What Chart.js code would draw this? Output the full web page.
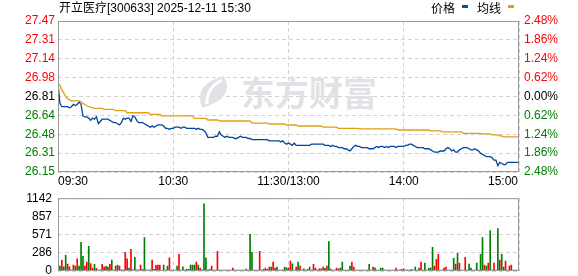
<!DOCTYPE html>
<html>
<head>
<meta charset="utf-8">
<script src="https://cdn.jsdelivr.net/npm/chart.js@4.4.1/dist/chart.umd.min.js"></script>
<style>
  html, body { margin: 0; padding: 0; background: #fff; }
  #wrap { position: relative; width: 578px; height: 276px; overflow: hidden; font-family: "Liberation Sans", "Noto Sans CJK SC", sans-serif; color: #000; }
  #title { position: absolute; left: 59px; top: 0px; font-size: 12px; line-height: 16px; white-space: nowrap; }
  .leg { position: absolute; top: 0px; font-size: 12px; line-height: 16px; white-space: nowrap; font-family: "Noto Sans CJK SC", sans-serif; }
  .mark { position: absolute; top: 5px; width: 6px; height: 3px; }
  #priceChart { position: absolute; left: 0; top: 0; }
  #volChart { position: absolute; left: 0; top: 185px; }
</style>
</head>
<body>
<div id="wrap">
  <canvas id="priceChart" width="578" height="190"></canvas>
  <canvas id="volChart" width="578" height="100"></canvas>
  <div id="title">开立医疗[300633] 2025-12-11 15:30</div>
  <div class="leg" style="left:431px">价格</div>
  <div class="mark" style="left:462px;background:#0a4fa3"></div>
  <div class="leg" style="left:477px">均线</div>
  <div class="mark" style="left:508px;background:#e0a010"></div>
</div>
<script>
// previous close and the +/- range shown on the price axis
const prevClose = 26.81;
const priceSpan = 0.665;

const priceTickLabels = ['26.15', '26.31', '26.48', '26.64', '26.81', '26.98', '27.14', '27.31', '27.47'];
const pctTickLabels = ['2.48%', '1.86%', '1.24%', '0.62%', '0.00%', '0.62%', '1.24%', '1.86%', '2.48%'];

const timeTicks = [0, 60, 120, 180, 240];
const timeLabels = ['09:30', '10:30', '11:30/13:00', '14:00', '15:00'];

const volTicks = [0, 286, 571, 857, 1142];

// one value per minute, 09:30 .. 11:30 then 13:01 .. 15:00
const price = [
  26.93, 26.75, 26.72, 26.72, 26.72, 26.72, 26.71, 26.72, 26.74, 26.73,
  26.74, 26.76, 26.74, 26.64, 26.63, 26.63, 26.62, 26.60, 26.62, 26.61,
  26.63, 26.57, 26.59, 26.61, 26.61, 26.61, 26.61, 26.60, 26.59, 26.58,
  26.58, 26.57, 26.56, 26.58, 26.62, 26.61, 26.62, 26.62, 26.59, 26.64,
  26.63, 26.60, 26.58, 26.58, 26.58, 26.57, 26.56, 26.55, 26.54, 26.55,
  26.54, 26.55, 26.56, 26.56, 26.56, 26.55, 26.53, 26.53, 26.52, 26.53,
  26.53, 26.54, 26.54, 26.54, 26.53, 26.54, 26.54, 26.53, 26.53, 26.53,
  26.53, 26.53, 26.52, 26.53, 26.52, 26.52, 26.51, 26.49, 26.45, 26.45,
  26.45, 26.45, 26.46, 26.46, 26.50, 26.47, 26.46, 26.45, 26.46, 26.45,
  26.45, 26.45, 26.44, 26.44, 26.45, 26.46, 26.45, 26.45, 26.45, 26.44,
  26.44, 26.43, 26.43, 26.43, 26.43, 26.43, 26.43, 26.43, 26.43, 26.43,
  26.42, 26.42, 26.42, 26.42, 26.42, 26.42, 26.41, 26.42, 26.40, 26.39,
  26.40, 26.39, 26.38, 26.40, 26.38, 26.38, 26.38, 26.38, 26.38, 26.38,
  26.38, 26.38, 26.39, 26.39, 26.39, 26.39, 26.39, 26.39, 26.39, 26.38,
  26.38, 26.38, 26.37, 26.38, 26.37, 26.37, 26.36, 26.36, 26.36, 26.35,
  26.35, 26.34, 26.33, 26.35, 26.37, 26.38, 26.37, 26.37, 26.36, 26.36,
  26.36, 26.36, 26.35, 26.35, 26.35, 26.36, 26.37, 26.36, 26.37, 26.37,
  26.36, 26.37, 26.36, 26.37, 26.37, 26.37, 26.36, 26.37, 26.37, 26.37,
  26.37, 26.38, 26.38, 26.39, 26.39, 26.38, 26.37, 26.36, 26.36, 26.36,
  26.36, 26.35, 26.35, 26.35, 26.34, 26.33, 26.32, 26.32, 26.32, 26.33,
  26.33, 26.33, 26.35, 26.36, 26.35, 26.33, 26.34, 26.32, 26.32, 26.34,
  26.35, 26.36, 26.36, 26.36, 26.35, 26.34, 26.34, 26.35, 26.34, 26.33,
  26.31, 26.30, 26.29, 26.28, 26.28, 26.28, 26.27, 26.25, 26.25, 26.20,
  26.23, 26.22, 26.21, 26.21, 26.23, 26.23, 26.23, 26.23, 26.23, 26.23,
  26.23
];

const avgLine = [
  26.93, 26.91, 26.87, 26.84, 26.81, 26.79, 26.78, 26.772, 26.772, 26.772,
  26.772, 26.772, 26.763, 26.749, 26.74, 26.728, 26.72, 26.717, 26.71, 26.705,
  26.705, 26.705, 26.705, 26.705, 26.696, 26.696, 26.696, 26.696, 26.696, 26.696,
  26.685, 26.685, 26.685, 26.685, 26.685, 26.685, 26.667, 26.667, 26.667, 26.667,
  26.667, 26.667, 26.667, 26.667, 26.667, 26.667, 26.667, 26.667, 26.653, 26.653,
  26.653, 26.653, 26.653, 26.653, 26.64, 26.64, 26.64, 26.64, 26.64, 26.64,
  26.64, 26.64, 26.64, 26.64, 26.64, 26.64, 26.64, 26.64, 26.64, 26.64,
  26.64, 26.617, 26.617, 26.617, 26.617, 26.617, 26.617, 26.617, 26.603, 26.603,
  26.603, 26.603, 26.603, 26.603, 26.594, 26.594, 26.594, 26.594, 26.594, 26.594,
  26.594, 26.594, 26.594, 26.594, 26.594, 26.594, 26.594, 26.594, 26.594, 26.594,
  26.594, 26.575, 26.575, 26.575, 26.575, 26.575, 26.575, 26.575, 26.575, 26.575,
  26.568, 26.568, 26.568, 26.568, 26.568, 26.568, 26.568, 26.568, 26.568, 26.559,
  26.559, 26.559, 26.559, 26.559, 26.559, 26.55, 26.55, 26.55, 26.55, 26.55,
  26.55, 26.55, 26.55, 26.55, 26.55, 26.55, 26.55, 26.55, 26.54, 26.54,
  26.54, 26.54, 26.54, 26.54, 26.54, 26.54, 26.53, 26.53, 26.53, 26.53,
  26.53, 26.53, 26.53, 26.53, 26.53, 26.53, 26.53, 26.524, 26.524, 26.524,
  26.524, 26.524, 26.524, 26.524, 26.524, 26.524, 26.524, 26.524, 26.524, 26.524,
  26.524, 26.524, 26.524, 26.524, 26.524, 26.524, 26.524, 26.515, 26.515, 26.515,
  26.515, 26.515, 26.515, 26.515, 26.515, 26.515, 26.515, 26.515, 26.515, 26.515,
  26.515, 26.515, 26.515, 26.515, 26.507, 26.507, 26.507, 26.507, 26.507, 26.507,
  26.498, 26.498, 26.498, 26.498, 26.498, 26.498, 26.498, 26.498, 26.498, 26.498,
  26.498, 26.486, 26.486, 26.486, 26.486, 26.486, 26.486, 26.486, 26.486, 26.486,
  26.486, 26.48, 26.48, 26.48, 26.48, 26.48, 26.472, 26.472, 26.472, 26.472,
  26.463, 26.463, 26.454, 26.454, 26.454, 26.454, 26.454, 26.454, 26.454, 26.454,
  26.454
];

const volume = [
  170, 77, 170, 67, 247, 108, 67, 15, 93, 77,
  190, 77, 448, 231, 77, 139, 386, 118, 41, 103,
  41, 15, 20, 103, 62, 72, 62, 103, 170, 15,
  77, 93, 77, 20, 15, 293, 190, 46, 340, 20,
  216, 20, 20, 93, 25, 525, 20, 15, 20, 170,
  25, 87, 93, 93, 10, 93, 15, 77, 206, 15,
  15, 15, 77, 262, 15, 67, 15, 25, 25, 93,
  93, 93, 139, 93, 46, 20, 1055, 206, 15, 25,
  77, 15, 15, 309, 15, 15, 15, 15, 15, 15,
  15, 46, 15, 15, 15, 15, 15, 15, 30, 15,
  576, 293, 15, 15, 15, 309, 15, 25, 46, 25,
  62, 62, 139, 46, 62, 15, 15, 20, 62, 50,
  50, 154, 113, 15, 62, 139, 77, 15, 36, 15,
  25, 62, 15, 103, 46, 15, 36, 36, 62, 41,
  77, 463, 30, 15, 15, 46, 36, 46, 139, 15,
  15, 15, 77, 139, 62, 15, 15, 15, 15, 15,
  15, 15, 103, 15, 62, 50, 15, 15, 46, 46,
  15, 15, 15, 15, 15, 15, 46, 15, 20, 25,
  36, 15, 20, 15, 25, 15, 62, 15, 46, 139,
  15, 123, 15, 46, 46, 370, 77, 185, 262, 15,
  15, 46, 62, 15, 15, 15, 200, 108, 278, 123,
  15, 15, 216, 15, 108, 46, 15, 15, 123, 15,
  262, 525, 93, 77, 123, 633, 15, 123, 15, 664,
  170, 262, 62, 154, 15, 77, 93, 15, 15, 15,
  216
];

// 1 = red bar (up), 0 = green bar (down)
const volUp = [
  0, 0, 1, 0, 0, 1, 1, 0, 1, 0,
  1, 0, 0, 0, 1, 1, 0, 1, 1, 0,
  1, 0, 1, 1, 1, 0, 1, 1, 0, 0,
  1, 0, 1, 0, 1, 1, 1, 0, 1, 1,
  0, 1, 1, 1, 1, 0, 0, 1, 0, 1,
  0, 1, 1, 1, 0, 0, 0, 0, 1, 1,
  0, 1, 0, 1, 1, 0, 1, 0, 0, 0,
  0, 0, 1, 0, 1, 1, 0, 0, 0, 1,
  1, 1, 0, 1, 0, 0, 1, 0, 1, 1,
  1, 1, 1, 0, 1, 1, 1, 1, 0, 0,
  0, 0, 0, 1, 0, 1, 0, 1, 1, 0,
  1, 0, 1, 1, 0, 1, 0, 0, 0, 0,
  1, 1, 0, 1, 1, 0, 1, 0, 0, 1,
  1, 0, 1, 1, 1, 0, 1, 1, 1, 0,
  1, 0, 1, 0, 1, 1, 1, 0, 0, 0,
  1, 0, 0, 1, 1, 0, 1, 0, 1, 0,
  1, 0, 0, 1, 1, 0, 1, 0, 0, 0,
  1, 0, 1, 0, 1, 0, 1, 1, 0, 1,
  1, 1, 1, 1, 1, 0, 0, 0, 0, 1,
  0, 0, 1, 0, 0, 0, 1, 1, 1, 0,
  1, 1, 1, 1, 1, 0, 0, 1, 0, 1,
  0, 0, 1, 0, 0, 0, 1, 1, 0, 1,
  0, 0, 1, 0, 1, 0, 0, 1, 0, 0,
  1, 0, 0, 1, 0, 1, 1, 0, 1, 0,
  1
];

const minutes = price.map((_, i) => i);

const FONT = '"Liberation Sans", Arial, sans-serif';
const RED = '#ff0000';
const GREEN = '#008000';
const GRID = '#d2d2d2';
const DASH = [4, 3];

function tickColor(ctx) {
  if (ctx.index > 4) return RED;
  if (ctx.index < 4) return GREEN;
  return '#000000';
}

// gray frame round the plot area, plus the time labels under the price panel
const framePlugin = {
  id: 'frame',
  afterDraw(chart, args, opts) {
    const { ctx, chartArea: a } = chart;
    ctx.save();
    ctx.strokeStyle = '#999999';
    ctx.lineWidth = 1;
    ctx.strokeRect(a.left + 0.5, a.top + 0.5, a.right - a.left - 1, a.bottom - a.top - 1);
    if (opts.timeLabels) {
      ctx.font = '12px ' + FONT;
      ctx.fillStyle = '#000';
      ctx.textBaseline = 'middle';
      const last = timeTicks.length - 1;
      timeTicks.forEach((t, i) => {
        const x = chart.scales.x.getPixelForValue(t);
        ctx.textAlign = i === 0 ? 'left' : (i === last ? 'right' : 'center');
        ctx.fillText(timeLabels[i], i === last ? x - 1 : x, a.bottom + 10);
      });
    }
    ctx.restore();
  }
};

// faint brand watermark behind the lines
const watermarkPlugin = {
  id: 'watermark',
  beforeDatasetsDraw(chart) {
    const { ctx } = chart;
    ctx.save();
    ctx.fillStyle = '#e2e2e6';
    // little flame logo
    ctx.beginPath();
    ctx.moveTo(224, 76);
    ctx.quadraticCurveTo(193, 84, 202, 108);
    ctx.quadraticCurveTo(236, 98, 224, 76);
    ctx.fill();
    ctx.strokeStyle = '#ffffff';
    ctx.lineWidth = 3;
    ctx.beginPath();
    ctx.moveTo(207, 104);
    ctx.quadraticCurveTo(206, 88, 222, 80);
    ctx.stroke();
    ctx.font = 'bold 34px "Noto Sans CJK SC", sans-serif';
    ctx.textAlign = 'center';
    ctx.textBaseline = 'middle';
    ctx.fillText('东方财富', 309, 93);
    ctx.restore();
  }
};

Chart.register(framePlugin);

const xScale = () => ({
  type: 'linear',
  min: 0,
  max: 240,
  offset: false,
  afterBuildTicks: s => { s.ticks = timeTicks.map(v => ({ value: v })); },
  ticks: { display: false },
  grid: { color: GRID, drawTicks: false, offset: false },
  border: { display: false, dash: DASH }
});

new Chart(document.getElementById('priceChart'), {
  type: 'line',
  data: {
    labels: minutes,
    datasets: [
      { data: price, borderColor: '#00469c', borderWidth: 1.3, pointRadius: 0, tension: 0, order: 1 },
      { data: avgLine, borderColor: '#e0a010', borderWidth: 1.3, pointRadius: 0, tension: 0, order: 2 }
    ]
  },
  options: {
    responsive: false,
    animation: false,
    events: [],
    layout: { padding: { top: 21, bottom: 18, left: 0, right: 0 } },
    plugins: { legend: { display: false }, tooltip: { enabled: false }, frame: { timeLabels: true } },
    scales: {
      x: xScale(),
      y: {
        position: 'left',
        min: prevClose - priceSpan,
        max: prevClose + priceSpan,
        afterBuildTicks: s => { s.ticks = priceTickLabels.map((_, i) => ({ value: prevClose + (i - 4) * priceSpan / 4 })); },
        afterFit: s => { s.width = 58; },
        ticks: { callback: (v, i) => priceTickLabels[i], color: tickColor, font: { family: FONT, size: 12 }, padding: 3 },
        grid: { color: GRID, drawTicks: false },
        border: { display: false, dash: DASH }
      },
      y2: {
        position: 'right',
        min: prevClose - priceSpan,
        max: prevClose + priceSpan,
        afterBuildTicks: s => { s.ticks = pctTickLabels.map((_, i) => ({ value: prevClose + (i - 4) * priceSpan / 4 })); },
        afterFit: s => { s.width = 59; },
        ticks: { callback: (v, i) => pctTickLabels[i], color: tickColor, font: { family: FONT, size: 12 }, padding: 5 },
        grid: { drawOnChartArea: false, drawTicks: false },
        border: { display: false }
      }
    }
  },
  plugins: [watermarkPlugin]
});

new Chart(document.getElementById('volChart'), {
  type: 'bar',
  data: {
    labels: minutes,
    datasets: [{
      data: volume,
      backgroundColor: volUp.map(u => u ? RED : GREEN),
      barThickness: 1
    }]
  },
  options: {
    responsive: false,
    animation: false,
    events: [],
    layout: { padding: { top: 11, bottom: 14, left: 0, right: 59 } },
    plugins: { legend: { display: false }, tooltip: { enabled: false }, frame: { timeLabels: false } },
    scales: {
      x: xScale(),
      y: {
        position: 'left',
        min: 0,
        max: volTicks[volTicks.length - 1],
        afterBuildTicks: s => { s.ticks = volTicks.map(v => ({ value: v })); },
        afterFit: s => { s.width = 58; },
        ticks: { callback: (v, i) => String(volTicks[i]), color: '#000', font: { family: FONT, size: 12 }, padding: 6 },
        grid: { color: GRID, drawTicks: false },
        border: { display: false, dash: DASH }
      }
    }
  }
});
</script>
</body>
</html>
